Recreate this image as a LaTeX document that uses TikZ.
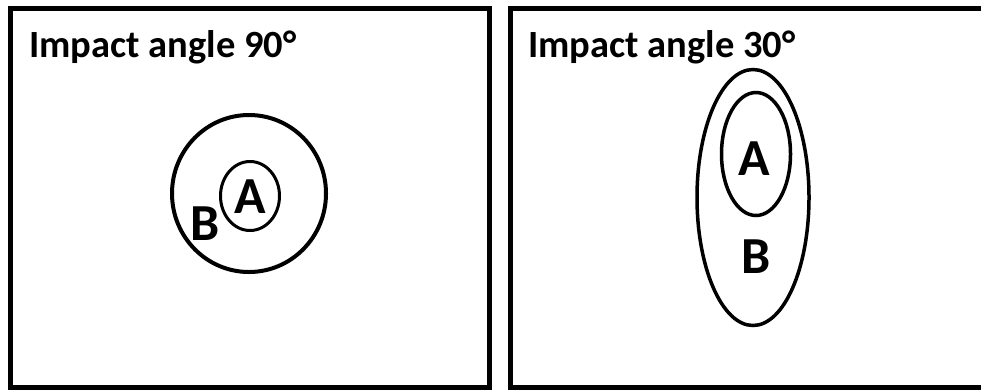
\documentclass[tikz,border=0pt]{standalone}
\usepackage{fontspec}
\setmainfont{Carlito}
\usetikzlibrary{shapes.geometric}
\begin{document}
\begin{tikzpicture}[x=1pt,y=-1pt,
  panel/.style={draw=black,line width=5pt},
  title/.style={anchor=base west,inner sep=0pt,font=\fontsize{38.5}{42}\selectfont\bfseries},
  letter/.style={inner sep=0pt,font=\fontsize{52}{56}\selectfont\bfseries},
  ring/.style={draw=black,shape=ellipse,inner sep=0pt,line width=#1},
]
\useasboundingbox (0,0) rectangle (981,389);
\fill[white] (0,0) rectangle (981,389);
\draw[panel] (10,8.5) rectangle (489,387);
\draw[panel] (981,8.5) -- (510,8.5) -- (510,387) -- (981,387);
\node[title] (t1) at (29,57) {Impact angle 90°};
\node[title] (t2) at (528,57) {Impact angle 30°};
% left
\node[ring=4pt,minimum width=154pt,minimum height=157pt] (lo) at (249,193.5) {};
\node[ring=3pt,minimum width=59pt,minimum height=69pt] (li) at (250,196) {};
\node[letter] (la) at (250.5,196.5) {A};
\node[letter] (lb) at (205,223.5) {B};
% right
\node[ring=3.5pt,minimum width=112pt,minimum height=256pt] (ro) at (753,197.5) {};
\node[ring=3.5pt,minimum width=69pt,minimum height=123pt] (ri) at (756,154) {};
\node[letter] (ra) at (754,159) {A};
\node[letter] (rb) at (756,256.5) {B};
\end{tikzpicture}
\end{document}
